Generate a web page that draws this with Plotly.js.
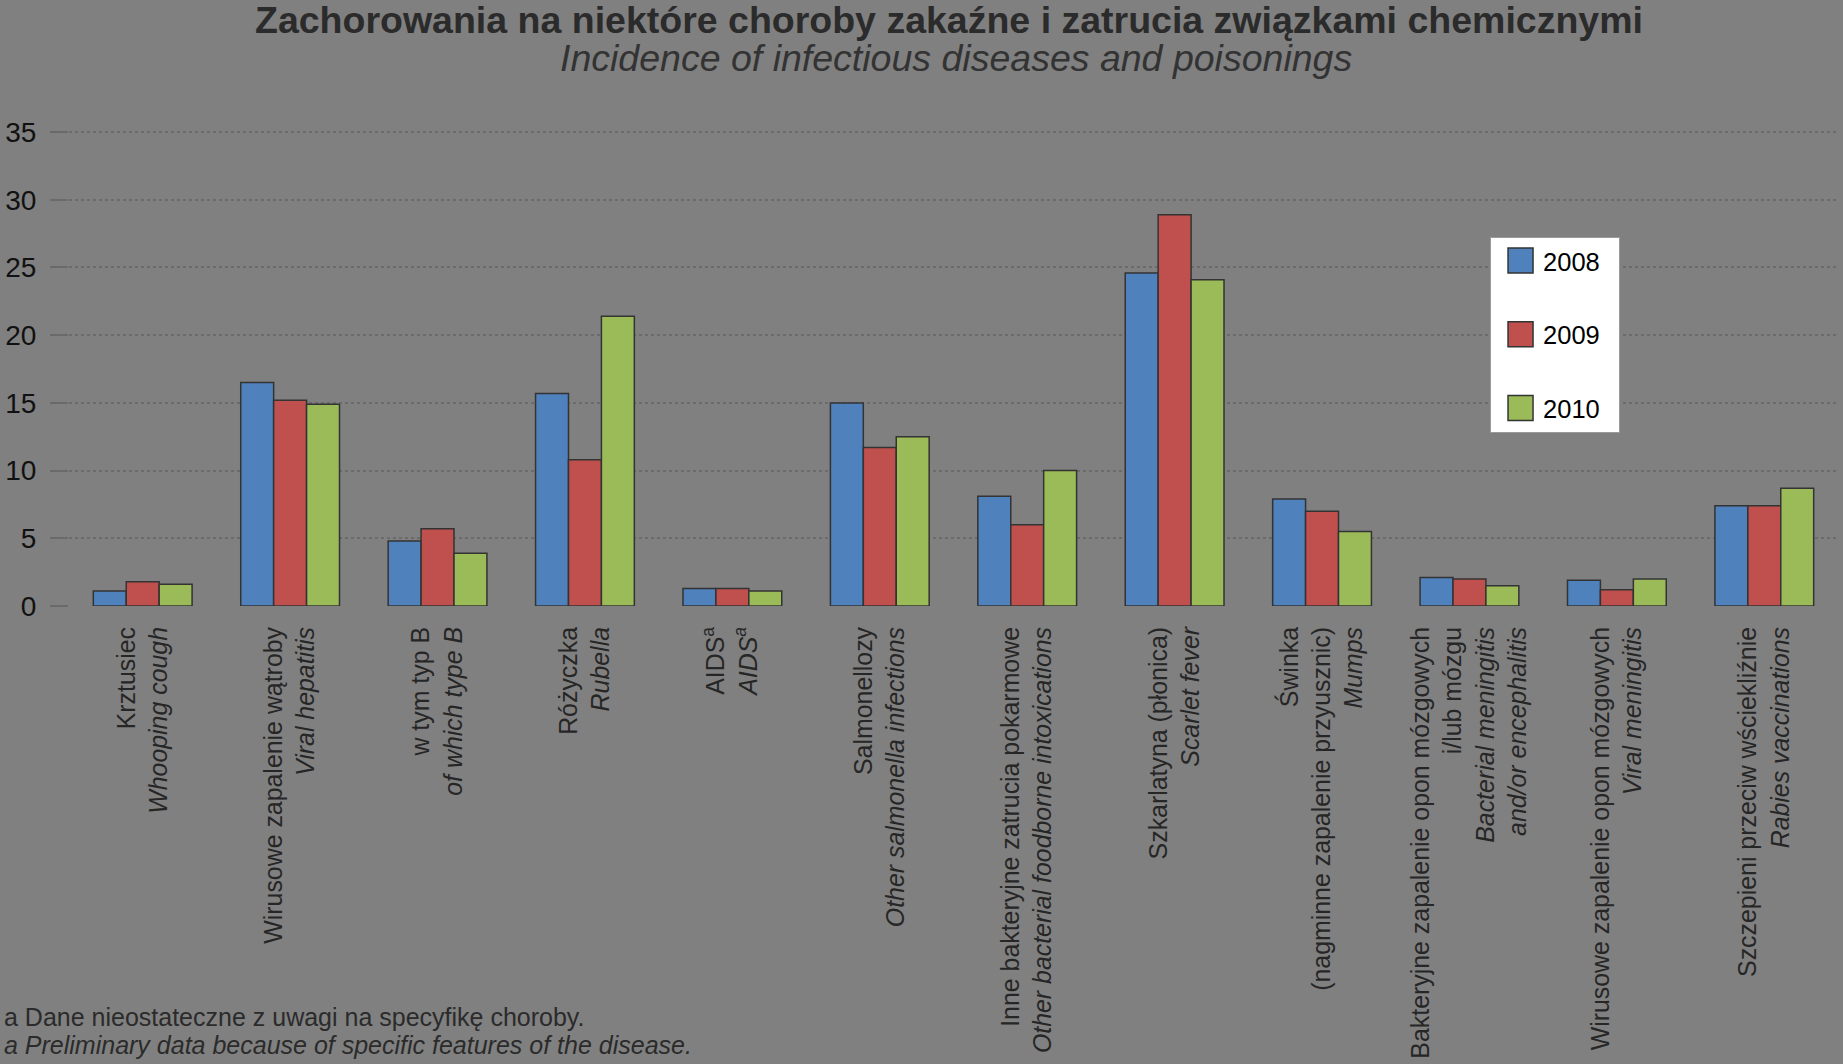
<!DOCTYPE html>
<html>
<head>
<meta charset="utf-8">
<script src="https://cdn.plot.ly/plotly-3.0.1.min.js"></script>
<style>
  html, body { margin: 0; padding: 0; background: #808080; }
  #chart { width: 1843px; height: 1064px; }
</style>
</head>
<body>
<div id="chart"></div>
<script>
// ---- data ----
const categories = [
  "Krztusiec<br><i>Whooping cough</i>",
  "Wirusowe zapalenie wątroby<br><i>Viral hepatitis</i>",
  "w tym typ B<br><i>of which type B</i>",
  "Różyczka<br><i>Rubella</i>",
  "AIDS<sup>a</sup><br><i>AIDS<sup>a</sup></i>",
  "Salmonellozy<br><i>Other salmonella infections</i>",
  "Inne bakteryjne zatrucia pokarmowe<br><i>Other bacterial foodborne intoxications</i>",
  "Szkarlatyna (płonica)<br><i>Scarlet fever</i>",
  "Świnka<br>(nagminne zapalenie przyusznic)<br><i>Mumps</i>",
  "Bakteryjne zapalenie opon mózgowych<br>i/lub mózgu<br><i>Bacterial meningitis<br>and/or encephalitis</i>",
  "Wirusowe zapalenie opon mózgowych<br><i>Viral meningitis</i>",
  "Szczepieni przeciw wściekliźnie<br><i>Rabies vaccinations</i>"
];
const seriesNames = ["2008", "2009", "2010"];
const values2008 = [1.1, 16.5, 4.8, 15.7, 1.3, 15.0, 8.1, 24.6, 7.9, 2.1, 1.9, 7.4];
const values2009 = [1.8, 15.2, 5.7, 10.8, 1.3, 11.7, 6.0, 28.9, 7.0, 2.0, 1.2, 7.4];
const values2010 = [1.6, 14.9, 3.9, 21.4, 1.1, 12.5, 10.0, 24.1, 5.5, 1.5, 2.0, 8.7];
const yTickValues = [0, 5, 10, 15, 20, 25, 30, 35];

const titleText = "Zachorowania na niektóre choroby zakaźne i zatrucia związkami chemicznymi";
const subtitleText = "Incidence of infectious diseases and poisonings";
const footnote1 = "a Dane nieostateczne z uwagi na specyfikę choroby.";
const footnote2 = "a Preliminary data because of specific features of the disease.";

// ---- styling ----
const colors = ["#4F81BD", "#C0504D", "#9BBB59"];
const allValues = [values2008, values2009, values2010];
const FONT = "Liberation Sans, Arial, sans-serif";

const traces = allValues.map((vals, i) => ({
  type: "bar",
  name: seriesNames[i] + "\u00a0\u00a0",
  x: categories,
  y: vals,
  legendgroup: seriesNames[i],
  marker: { color: colors[i], line: { color: "#333333", width: 1.5 } },
  hoverinfo: "y"
}));

const layout = {
  width: 1843,
  height: 1064,
  paper_bgcolor: "#808080",
  plot_bgcolor: "#808080",
  margin: { l: 69, r: 5, t: 128, b: 458, pad: 0 },
  barmode: "group",
  bargap: 0.33,
  bargroupgap: 0,
  font: { family: FONT, color: "#262626" },
  showlegend: true,
  legend: {
    x: 0.8033, y: 0.773, xanchor: "left", yanchor: "top",
    bgcolor: "#ffffff",
    bordercolor: "#9a9a9a",
    borderwidth: 1,
    font: { family: FONT, size: 25.5, color: "#000000" },
    traceorder: "grouped",
    tracegroupgap: 37.5,
    itemwidth: 42
  },
  xaxis: {
    type: "category",
    range: [-0.5, 11.5],
    tickangle: -90,
    tickfont: { family: FONT, size: 24.9, color: "#262626" },
    showgrid: false,
    zeroline: false,
    showline: false,
    ticks: "",
    ticklabelstandoff: 15,
    fixedrange: true
  },
  yaxis: {
    range: [0, 35.3],
    tickmode: "array",
    tickvals: yTickValues,
    ticktext: yTickValues.map(String),
    showgrid: true,
    gridcolor: "#6b6b6b",
    griddash: "dot",
    gridwidth: 2,
    zeroline: false,
    showline: false,
    ticks: "outside",
    ticklen: 18,
    tickwidth: 2,
    tickcolor: "#6a6a6a",
    ticklabelstandoff: 8,
    tickfont: { family: FONT, size: 28, color: "#111111" },
    fixedrange: true
  },
  annotations: [
    { xref: "paper", yref: "paper", x: 0.4975, y: 1.226, xanchor: "center", yanchor: "middle",
      text: "<b>" + titleText + "</b>", showarrow: false,
      font: { family: FONT, size: 37.5, color: "#2b2b2b" } },
    { xref: "paper", yref: "paper", x: 0.5014, y: 1.147, xanchor: "center", yanchor: "middle",
      text: "<i>" + subtitleText + "</i>", showarrow: false,
      font: { family: FONT, size: 37.5, color: "#333333" } },
    { xref: "paper", yref: "paper", x: -0.0378, y: -0.860, xanchor: "left", yanchor: "middle",
      text: footnote1, showarrow: false,
      font: { family: FONT, size: 25, color: "#2b2b2b" } },
    { xref: "paper", yref: "paper", x: -0.0378, y: -0.918, xanchor: "left", yanchor: "middle",
      text: "<i>" + footnote2 + "</i>", showarrow: false,
      font: { family: FONT, size: 25, color: "#2b2b2b" } }
  ]
};

Plotly.newPlot("chart", traces, layout, { displayModeBar: false, staticPlot: true }).then(() => {
  // enlarge legend swatches to match the reference
  document.querySelectorAll(".legend .legendpoints path").forEach(p => {
    p.setAttribute("d", "M16,12.5H-9V-12.5H16Z");
  });
});
</script>
</body>
</html>
